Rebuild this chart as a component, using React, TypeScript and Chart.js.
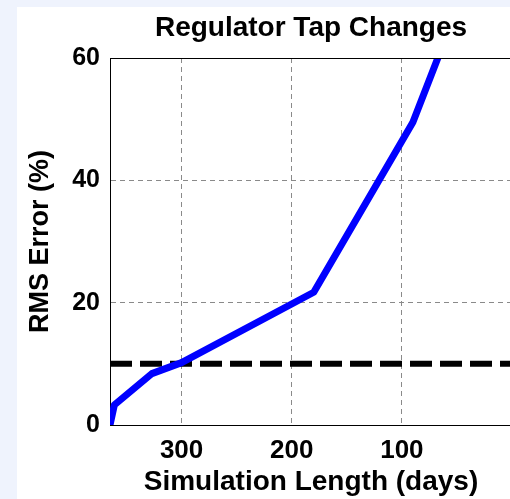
import React, { useEffect, useRef } from "react";
import { Chart, registerables } from "chart.js";

Chart.register(...registerables);

// Simulation length (days) and RMS error (%) of regulator tap changes
const simDays = [365, 361, 327, 300, 180, 90, 60];
const rmsError = [0, 3.3, 8.4, 10.2, 21.7, 49.5, 63.4];

// 10 % error threshold
const thresholdDays = [365, 0];
const thresholdError = [10, 10];

const xTicks = [300, 200, 100];
const yTicks = [0, 20, 40, 60];

const TITLE = "Regulator Tap Changes";
const FONT = "'Liberation Sans', Arial, Helvetica, sans-serif";

// Title centred over the plot area, plus a solid frame line on the top edge
const frameAndTitle = {
  id: "frameAndTitle",
  afterDatasetsDraw(chart: any) {
    const { ctx, chartArea } = chart;
    ctx.save();
    ctx.strokeStyle = "#000";
    ctx.lineWidth = 1;
    ctx.beginPath();
    ctx.moveTo(chartArea.left, Math.round(chartArea.top) + 0.5);
    ctx.lineTo(chartArea.right, Math.round(chartArea.top) + 0.5);
    ctx.stroke();

    ctx.fillStyle = "#000";
    ctx.font = `bold 28px ${FONT}`;
    ctx.textAlign = "center";
    ctx.textBaseline = "middle";
    ctx.fillText(TITLE, (chartArea.left + chartArea.right) / 2, 21);
    ctx.restore();
  },
};

export default function App() {
  const ref = useRef<HTMLCanvasElement | null>(null);

  useEffect(() => {
    if (!ref.current) return;
    const chart = new Chart(ref.current, {
      type: "line",
      data: {
        datasets: [
          {
            data: simDays.map((d, i) => ({ x: d, y: rmsError[i] })),
            borderColor: "#0000FF",
            borderWidth: 7,
            pointRadius: 0,
            tension: 0,
            clip: 0,
            borderJoinStyle: "round",
          },
          {
            data: thresholdDays.map((d, i) => ({ x: d, y: thresholdError[i] })),
            borderColor: "#000000",
            borderWidth: 6,
            borderDash: [22, 8],
            pointRadius: 0,
            clip: 0,
          },
        ],
      },
      options: {
        animation: false,
        responsive: false,
        layout: { padding: { left: 0, right: 5, top: 51, bottom: 0 } },
        plugins: {
          legend: { display: false },
          tooltip: { enabled: false },
          title: { display: false },
        },
        scales: {
          x: {
            type: "linear",
            reverse: true,
            min: 0,
            max: 365,
            afterFit(scale: any) {
              scale.height = 74;
            },
            afterBuildTicks(scale: any) {
              scale.ticks = [0, ...xTicks].map((v) => ({ value: v }));
            },
            ticks: {
              color: "#000",
              padding: 10,
              font: { family: FONT, size: 26, weight: "bold" },
              maxRotation: 0,
              autoSkip: false,
              callback: (v: any) => (xTicks.includes(Number(v)) ? String(v) : ""),
            },
            grid: { color: "#8a8a8a", lineWidth: 1, drawTicks: false },
            border: { color: "#000", width: 1, dash: [5, 4] },
            title: {
              display: true,
              text: "Simulation Length (days)",
              color: "#000",
              font: { family: FONT, size: 28, weight: "bold" },
              padding: { top: 0, bottom: 0 },
            },
          },
          y: {
            type: "linear",
            min: 0,
            max: 60,
            afterFit(scale: any) {
              scale.width = 93;
            },
            afterBuildTicks(scale: any) {
              scale.ticks = yTicks.map((v) => ({ value: v }));
            },
            ticks: {
              color: "#000",
              padding: 10,
              font: { family: FONT, size: 25, weight: "bold" },
            },
            grid: { color: "#8a8a8a", lineWidth: 1, drawTicks: false },
            border: { color: "#000", width: 1, dash: [5, 4] },
            title: {
              display: true,
              text: "RMS Error (%)",
              color: "#000",
              font: { family: FONT, size: 27, weight: "bold" },
              padding: { top: 7, bottom: 0 },
            },
          },
        },
      },
      plugins: [frameAndTitle],
    });
    return () => chart.destroy();
  }, []);

  return (
    <div
      style={{
        position: "absolute",
        left: 0,
        top: 0,
        width: 510,
        height: 499,
        overflow: "hidden",
        background: "#EFF3FD",
      }}
    >
      <div
        style={{
          position: "absolute",
          left: 17,
          top: 7,
          width: 500,
          height: 492,
          background: "#ffffff",
        }}
      >
        <canvas ref={ref} width={500} height={492} style={{ display: "block" }} />
      </div>
    </div>
  );
}
